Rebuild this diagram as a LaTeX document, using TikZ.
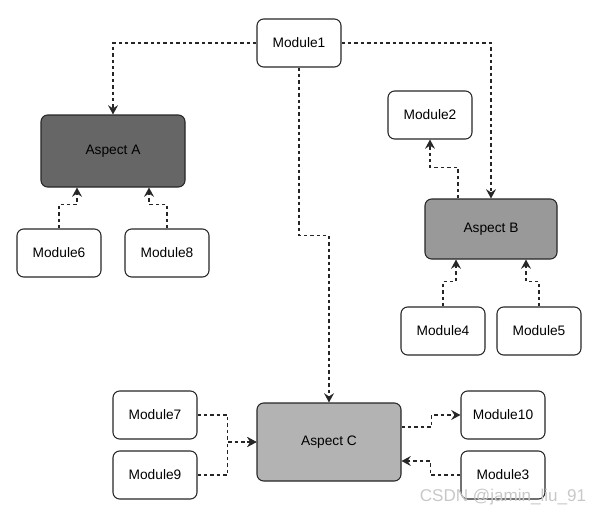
\documentclass[tikz,border=0pt]{standalone}
\usepackage{fontspec}
\setmainfont{Liberation Sans}
\usetikzlibrary{arrows.meta,calc}

\definecolor{aspa}{RGB}{102,102,102}
\definecolor{aspb}{RGB}{153,153,153}
\definecolor{aspc}{RGB}{179,179,179}
\definecolor{mark}{RGB}{200,200,200}

\tikzset{
  module/.style={draw=black!85,fill=white,rounded corners=5pt,line width=0.8pt,
    minimum width=63pt,minimum height=36pt,inner sep=0pt,font=\fontsize{10.3}{12}\selectfont},
  aspect/.style={module,minimum width=108pt,minimum height=54pt},
  link/.style={line width=0.9pt,draw=black!85,dash pattern=on 2.6pt off 2.2pt,
    -{Stealth[length=7pt,width=7.5pt,inset=2.5pt]}}
}

\begin{document}
\begin{tikzpicture}[x=0.75pt,y=-0.75pt]

    \useasboundingbox (0,0) rectangle (599,517);

    \node[module] (m1) at (299,43) {Module1};

    \node[aspect,fill=aspa] (asA) at (113,151) {Aspect A};
    \node[module] (m6) at (59,253) {Module6};
    \node[module] (m8) at (167,253) {Module8};

    \node[module] (m2) at (430,115) {Module2};
    \node[aspect,fill=aspb,minimum width=99pt,minimum height=45pt] (asB) at (491,229) {Aspect B};
    \node[module] (m4) at (443,331) {Module4};
    \node[module] (m5) at (539,331) {Module5};

    \node[module] (m7) at (155,415) {Module7};
    \node[module] (m9) at (155,475) {Module9};
    \node[aspect,fill=aspc,minimum height=58.5pt] (asC) at (329,442) {Aspect C};
    \node[module] (m10) at (503,415) {Module10};
    \node[module] (m3) at (503,475) {Module3};

    \draw[link] (m1.west) -| (asA.north);
    \draw[link] (m1.east) -| (asB.north);
    \draw[link] (m1.south) -- ++(0,168) -| (asC.north);

    \draw[link] (m6.north) -- ++(0,-24) -| ($(asA.south)+(-36,0)$);
    \draw[link] (m8.north) -- ++(0,-24) -| ($(asA.south)+(36,0)$);

    \draw[link] ($(asB.north)+(-33,0)$) -- ++(0,-31) -| (m2.south);
    \draw[link] (m4.north) -- ++(0,-25) -| ($(asB.south)+(-35,0)$);
    \draw[link] (m5.north) -- ++(0,-25) -| ($(asB.south)+(35,0)$);

    \draw[link] (m7.east) -- ++(30,0) |- (asC.west);
    \draw[link] (m9.east) -- ++(30,0) |- (asC.west);
    \draw[link] ($(asC.east)+(0,-15)$) -- ++(30,0) |- (m10.west);
    \draw[link] (m3.west) -- ++(-30,0) |- ($(asC.east)+(0,19)$);

    \node[text=mark,font=\fontsize{12.8}{15}\selectfont] (wm) at (503,497) {CSDN @jamin\_liu\_91};

\end{tikzpicture}
\end{document}
